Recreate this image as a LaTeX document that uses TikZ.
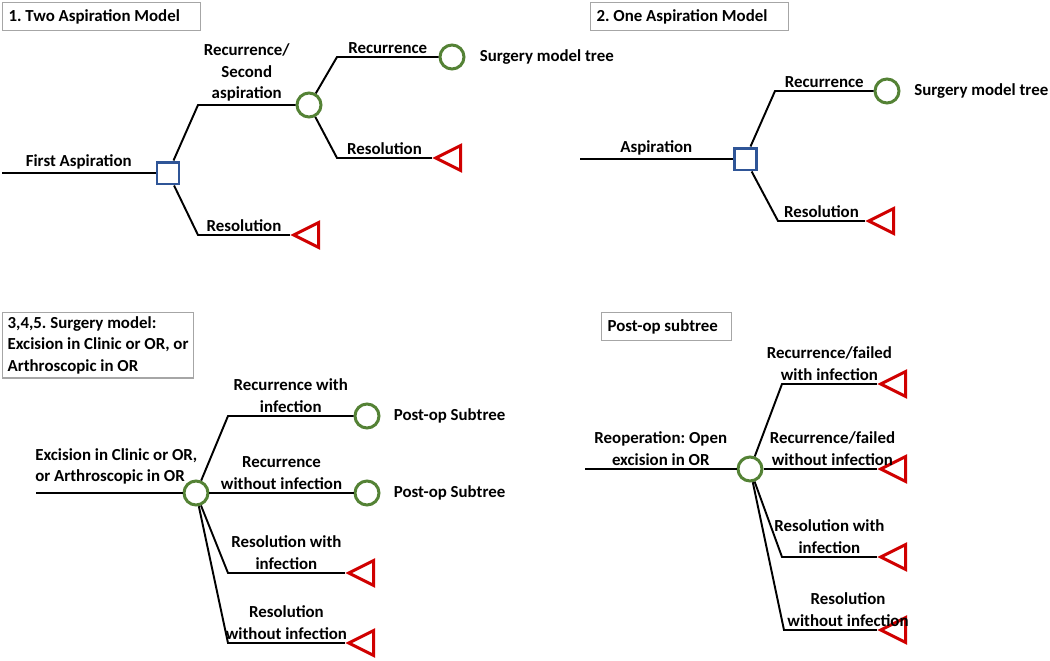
\documentclass[tikz,border=0pt]{standalone}
\usepackage{fontspec}
\setmainfont{Carlito}
\usepackage{xcolor}
\usetikzlibrary{shapes.geometric,positioning}
\frenchspacing
\definecolor{decblue}{RGB}{47,85,151}
\definecolor{chgreen}{RGB}{84,130,53}
\definecolor{endred}{RGB}{208,0,0}
\tikzset{
  decision/.style={draw=decblue,line width=1.7pt,fill=white,minimum size=0.44cm,inner sep=0pt},
  chance/.style={circle,draw=chgreen,line width=1.7pt,fill=white,minimum size=0.48cm,inner sep=0pt},
  terminal/.style={isosceles triangle,shape border rotate=180,isosceles triangle stretches,
    minimum width=0.5cm,minimum height=0.5cm,inner sep=0pt,draw=endred,line width=1.7pt,fill=white},
  branch/.style={line width=1.1pt},
  lbl/.style={midway,above,align=center,inner sep=1.5pt},
  side/.style={inner sep=0pt,anchor=west},
  titlebox/.style={draw=gray!70,line width=0.7pt,anchor=north west,align=flush left,inner xsep=0.12cm,minimum height=0.56cm}
}

\begin{document}
\begin{tikzpicture}[x=0.02cm,y=-0.02cm,font=\bfseries\fontsize{9.6}{12.2}\selectfont]
\useasboundingbox (0,0) rectangle (1050,660);

% 1. Two aspiration model
\node[titlebox,text width=3.72cm] (box1) at (2,2) {1. Two Aspiration Model};
\coordinate (in1) at (2,173);
\node[decision] (asp1) at (168,173) {};
\node[chance] (sec1) at (309,105) {};
\node[chance] (surg1) at (452,57) {};
\node[terminal] (res1) at (311,235) {};
\node[terminal] (res2) at (453,158) {};
\coordinate (k1) at (198,105);
\coordinate (k2) at (198,235);
\coordinate (k3) at (337,57);
\coordinate (k4) at (337,158);
\draw[branch] (in1) -- node[lbl] {First Aspiration} (asp1);
\draw[branch] (asp1) -- (k1) -- node[lbl] {Recurrence/\\Second\\aspiration} (sec1);
\draw[branch] (asp1) -- (k2) -- node[lbl] {Resolution} (res1);
\draw[branch] (sec1) -- (k3) -- node[lbl] {Recurrence} (surg1);
\draw[branch] (sec1) -- (k4) -- node[lbl] {Resolution} (res2);
\node[side,right=0.28cm of surg1] (surgtxt1) {Surgery model tree};

% 2. One aspiration model
\node[titlebox,text width=3.72cm] (box2) at (590,2) {2. One Aspiration Model};
\coordinate (in2) at (580,159);
\node[decision] (asp2) at (745,159) {};
\node[chance] (surg2) at (887,91) {};
\node[terminal] (res3) at (886,221) {};
\coordinate (k5) at (775,91);
\coordinate (k6) at (778,221);
\draw[branch] (in2) -- node[lbl] {Aspiration} (asp2);
\draw[branch] (asp2) -- (k5) -- node[lbl] {Recurrence} (surg2);
\draw[branch] (asp2) -- (k6) -- node[lbl] {Resolution} (res3);
\node[side,right=0.27cm of surg2] (surgtxt2) {Surgery model tree};

% 3,4,5. Surgery model
\node[titlebox,align=left,inner xsep=0.1cm,inner ysep=0.08cm] (box3) at (2,312) {3,4,5. Surgery model:\\Excision in Clinic or OR, or\\Arthroscopic in OR};
\coordinate (in3) at (36,493);
\node[chance] (exc) at (196,493) {};
\node[chance] (post1) at (367,416) {};
\node[chance] (post2) at (367,493) {};
\node[terminal] (res4) at (366,573) {};
\node[terminal] (res5) at (366,643) {};
\coordinate (k7) at (228,416);
\coordinate (k8) at (228,573);
\coordinate (k9) at (228,643);
\draw[branch] (in3) -- node[lbl,align=left,xshift=4,yshift=3] {Excision in Clinic or OR,\\or Arthroscopic in OR} (exc);
\draw[branch] (exc) -- (k7) -- node[lbl] {Recurrence with\\infection} (post1);
\draw[branch] (exc) -- node[lbl] {Recurrence\\without infection} (post2);
\draw[branch] (exc) -- (k8) -- node[lbl] {Resolution with\\infection} (res4);
\draw[branch] (exc) -- (k9) -- node[lbl] {Resolution\\without infection} (res5);
\node[side,right=0.26cm of post1] (posttxt1) {Post-op Subtree};
\node[side,right=0.26cm of post2] (posttxt2) {Post-op Subtree};

% Post-op subtree
\node[titlebox,text width=2.36cm] (box4) at (601,312) {Post-op subtree};
\coordinate (in4) at (585,469);
\node[chance] (reop) at (750,469) {};
\node[terminal] (res6) at (898,384) {};
\node[terminal] (res7) at (898,469) {};
\node[terminal] (res8) at (898,557) {};
\node[terminal] (res9) at (898,630) {};
\coordinate (k10) at (782,384);
\coordinate (k11) at (782,557);
\coordinate (k12) at (784,630);
\draw[branch] (in4) -- node[lbl] {Reoperation: Open\\excision in OR} (reop);
\draw[branch] (reop) -- (k10) -- node[lbl] {Recurrence/failed\\with infection} (res6);
\draw[branch] (reop) -- node[lbl,xshift=7] {Recurrence/failed\\without infection} (res7);
\draw[branch] (reop) -- (k11) -- node[lbl] {Resolution with\\infection} (res8);
\draw[branch] (reop) -- (k12) -- node[lbl,xshift=10] {Resolution\\without infection} (res9);
\end{tikzpicture}
\end{document}
